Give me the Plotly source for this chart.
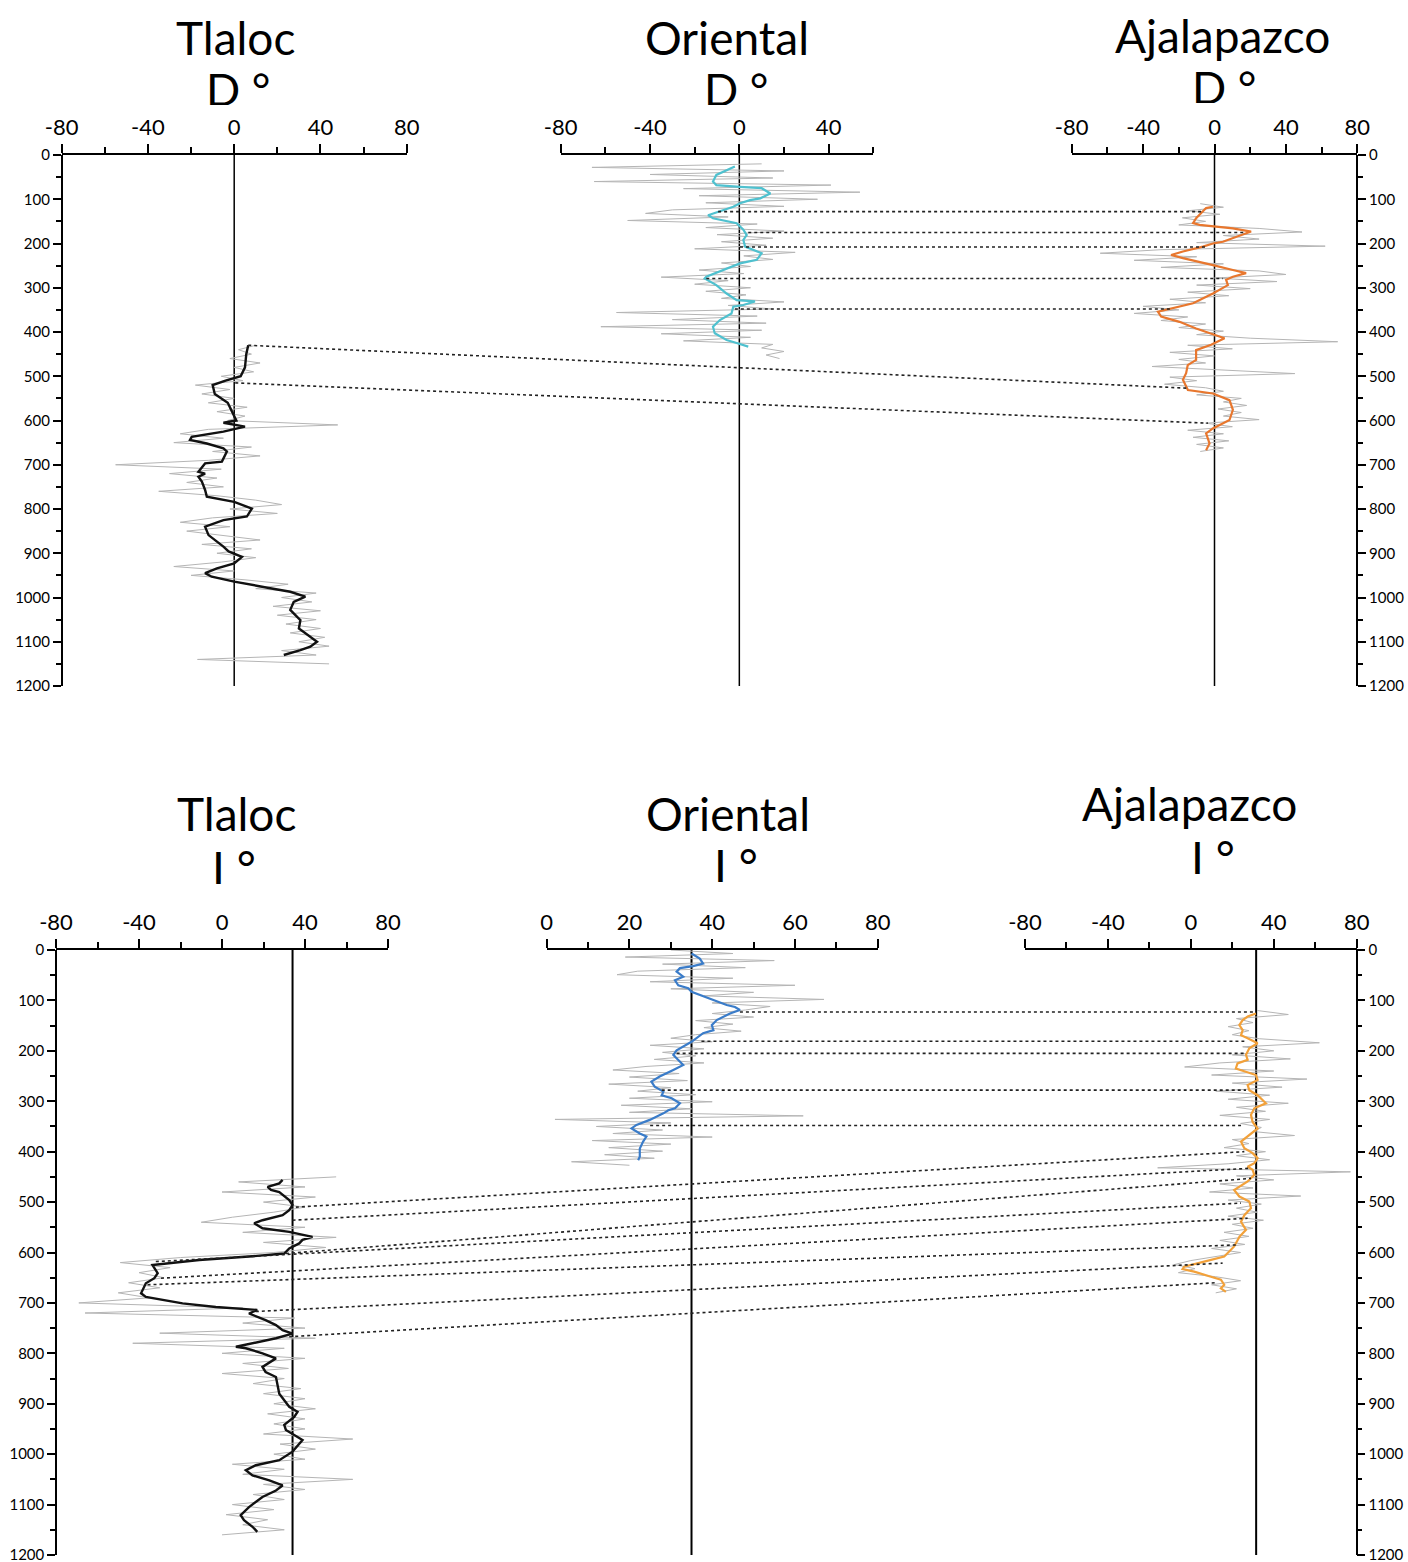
import plotly.graph_objects as go

W, H = 1408, 1562

# ---------------- DATA ----------------
# Declination (D) - smoothed curves (depth cm, degrees)
tlaloc_D_depth = [430, 450, 480, 500, 510, 520, 540, 560, 580, 600, 605, 610, 614, 625, 637, 644, 652, 663, 670, 693, 697, 716, 720, 727, 738, 757, 772, 784, 799, 817, 825, 840, 859, 885, 896, 908, 923, 934, 945, 953, 964, 979, 987, 998, 1010, 1028, 1051, 1070, 1089, 1100, 1111, 1119, 1130]
tlaloc_D_smooth = [6.5, 5.6, 5, 3, -4, -10, -9, -3, -1, 1, -5, 0, 5, -5, -19.7, -20.5, -12.7, -5, -3.4, -5.7, -13.5, -16.6, -13.5, -16.6, -15, -13.5, -12.7, 0, 8.2, 5.9, -5, -13.5, -11.9, -5, -2.6, 3.6, 0, -8, -13.5, -10.4, 0, 16.7, 26, 33, 27.6, 26, 30.7, 30, 35.3, 38.4, 35.3, 30.7, 23]
tlaloc_D_raw_depth = list(range(430, 1151, 10))
tlaloc_D_raw = [10, 2, 8, -2, 12, 0, 9, -6, 4, -18, -2, -15, 0, -12, 6, -8, 5, -3, 48, -12, -25, -5, -28, 8, -10, 12, -12, -55, -6, -30, -8, -22, -5, -35, -8, 10, 22, -2, 20, -10, -25, -2, -22, -5, 12, -15, 8, -8, 10, -6, -28, 0, -20, 5, 25, 10, 38, 22, 36, 18, 40, 20, 38, 24, 40, 26, 42, 30, 44, 22, 38, -17, 44]

oriental_D_depth = [26, 45, 60, 68, 72, 75, 87, 98, 102, 109, 117, 128, 136, 143, 154, 169, 181, 192, 207, 222, 237, 245, 260, 275, 279, 294, 313, 328, 331, 339, 343, 358, 373, 388, 403, 418, 425, 433]
oriental_D_smooth = [-2, -10.3, -11.8, -10.3, 0.3, 10, 13.9, 9.4, 4.8, 0.3, -2.7, -8.7, -14, -11.8, -1.2, 1.8, 3.3, 1.8, 2.6, 10, 7.8, 0.3, -7.2, -14.8, -15.5, -10.3, -5.7, -1.2, 7, 1.8, -2.7, -3.5, -8.7, -11.8, -11, -5.7, -1.2, 4]
oriental_D_raw_depth = list(range(20, 461, 8))
oriental_D_raw = [10, -66, 20, -40, 15, -65, 41, -25, 54, -18, 35, -15, 20, -30, -42, -5, -50, 8, -15, 20, -10, 15, -8, 12, -20, 25, 2, 15, -8, 5, -18, 2, -35, -5, -20, 5, -15, 3, -8, 20, -5, 15, -55, 8, -30, 12, -62, 10, -35, 5, -25, 15, 10, 20, 12, 18]

ajala_D_depth = [117, 120, 143, 154, 158, 166, 173, 188, 196, 200, 207, 218, 226, 233, 241, 249, 260, 267, 275, 282, 294, 313, 335, 346, 354, 365, 377, 392, 403, 414, 429, 441, 463, 475, 493, 508, 531, 539, 554, 576, 599, 618, 629, 652, 667]
ajala_D_smooth = [-0.9, -4.7, -10.3, -12, -8.4, 10.3, 20.5, 10.3, 4.7, -0.9, -6.5, -17.7, -24.3, -17.7, -8.4, -0.9, 10.3, 17.7, 10.3, 6.5, 7.5, -0.9, -12, -23.3, -31.7, -29.9, -19.6, -10.3, -2.8, 5.6, -1.9, -10.3, -10.3, -15, -15.9, -17.7, -14.9, -0.9, 8.4, 10.3, 8.4, -0.9, -4.7, -2.8, -4.7]
ajala_D_raw_depth = list(range(110, 671, 8))
ajala_D_raw = [-8, 5, -15, 3, -18, -5, -20, 25, 49, 5, 25, -10, 62, -30, -64, -10, -45, 5, -30, 25, 40, 0, 35, -10, 20, -15, 8, -25, -5, -40, -20, -45, -15, -30, -5, -20, 5, -10, 20, 69, -15, 10, -25, 0, -20, -5, -35, 5, 45, -25, -10, -28, -5, 5, -10, 15, 5, 18, 2, 15, 5, 25, -5, 10, -15, 5, -12, 8, -10, 5, -8]

# Inclination (I)
tlaloc_I_depth = [456, 463, 470, 476, 480, 496, 506, 516, 526, 536, 542, 552, 559, 569, 575, 582, 592, 602, 608, 615, 625, 641, 651, 661, 681, 688, 701, 708, 714, 721, 734, 744, 754, 761, 770, 780, 787, 790, 800, 810, 827, 837, 847, 880, 906, 916, 926, 942, 952, 972, 995, 1012, 1022, 1032, 1042, 1052, 1062, 1072, 1085, 1105, 1121, 1131, 1144, 1154]
tlaloc_I_smooth = [29.2, 27.6, 22, 23.6, 27.6, 32.4, 34, 32.4, 29.2, 19.5, 15.5, 19.5, 32.4, 43.6, 38.8, 37.2, 32.4, 30, 13, -11, -33.5, -31, -32.6, -36.7, -39, -36.7, -19, -3, 17, 13, 21, 26, 29.2, 34, 26, 14.7, 6.7, 11.5, 19.5, 26, 19.5, 21, 26, 27.6, 32.4, 36.4, 34.8, 30, 30.8, 38.8, 34, 27.6, 16.3, 11.5, 14.7, 22.8, 29.2, 26, 19.5, 13, 9, 10.6, 14.7, 17]
tlaloc_I_raw_depth = list(range(450, 1161, 10))
tlaloc_I_raw = [55, 8, 40, 0, 45, 20, 40, 25, 5, -10, 40, 10, 55, 20, 50, 25, -20, -49, -25, -40, -28, -45, -30, -50, -35, -69, 10, -66, 35, 10, 40, -30, 45, -43, 30, 0, 40, 10, 32, 0, 30, 15, 38, 20, 40, 25, 45, 22, 40, 25, 40, 20, 63, 28, 45, 25, 40, 5, 30, 10, 63, 20, 40, 15, 30, 5, 25, 2, 22, 10, 30, 0]

oriental_I_depth = [7, 17, 27, 32, 36, 43, 53, 60, 70, 76, 83, 99, 109, 113, 119, 126, 139, 149, 159, 165, 182, 199, 208, 218, 228, 238, 251, 261, 271, 281, 288, 294, 304, 314, 318, 324, 337, 347, 354, 364, 370, 380, 394, 410, 417]
oriental_I_smooth = [35, 37, 37.8, 35.4, 32.2, 31.4, 33, 31, 31.8, 34.2, 35, 40.3, 43.5, 45.5, 46.7, 44.3, 41.1, 39.9, 40.3, 37.8, 35, 31.4, 30.6, 31.8, 33, 30.6, 27.3, 25.3, 26.1, 28.2, 27.8, 30.2, 32.2, 31, 29.4, 28.2, 24.9, 21.7, 20.5, 22.5, 24.1, 23.3, 22.5, 22.5, 22.1]
oriental_I_raw_depth = list(range(0, 428, 7))
oriental_I_raw = [30, 45, 19, 55, 28, 48, 22, 17, 45, 25, 60, 30, 50, 38, 67, 40, 54, 48, 40, 50, 36, 45, 38, 47, 36, 30, 40, 25, 38, 28, 36, 26, 38, 24, 16, 32, 20, 34, 15, 30, 22, 36, 20, 40, 18, 35, 20, 62, 2, 30, 12, 28, 16, 40, 11, 30, 15, 28, 14, 26, 6, 20]

ajala_I_depth = [126, 132, 139, 149, 159, 169, 175, 185, 195, 208, 218, 225, 235, 241, 248, 258, 268, 278, 288, 304, 314, 327, 341, 354, 367, 380, 393, 403, 413, 423, 430, 436, 446, 459, 476, 489, 499, 512, 526, 539, 555, 569, 588, 608, 618, 628, 633, 638, 648, 654, 664, 671, 678]
ajala_I_smooth = [31.4, 27.4, 25, 23.4, 25, 24.2, 27.4, 32.2, 28.2, 26.6, 27.4, 22.5, 21.7, 26.6, 31.4, 32.2, 27.4, 28.2, 32.2, 36.2, 30.6, 29, 29.8, 32.2, 28.2, 24.2, 25.8, 29.8, 32.2, 30.6, 27.4, 29.8, 30.6, 27.4, 20.9, 23.4, 28.2, 29, 25.8, 24.2, 26.6, 23.4, 20.9, 16.1, 6.4, -3.2, -4, 1.6, 9.7, 14.5, 16.1, 14.5, 16.9]
ajala_I_raw_depth = list(range(120, 681, 8))
ajala_I_raw = [32, 47, 22, 30, 18, 28, 20, 33, 62, 25, 40, 20, 48, 14, -3, 40, 10, 56, 20, 44, 12, 38, 18, 47, 22, 36, 14, 38, 24, 34, 30, 50, 20, 28, 16, 36, 22, 38, 18, -16, 77, 22, 40, 14, 30, 9, 53, 18, 34, 22, 32, 18, 35, 20, 30, 16, 28, 14, 26, 10, 24, 12, 0, -8, 2, -6, 12, 24, 10, 22, 12]

# Reference (vertical) lines
ref_D = [0, 0, 0]
ref_I = [34, 35, 31.5]

# Tie lines: (depth, value) in first core -> (depth, value) in second core
tie_D_oa = [((128, -9.5), (128, -6.5)), ((175, 4), (175, 17.7)), ((208, 0.3), (208, -4.7)),
            ((279, -14.8), (279, 4.7)), ((348, -2), (348, -25))]
tie_D_ta = [((430, 6.5), (527, -15)), ((515, 0.5), (606, -3.7))]
tie_I_oa = [((123, 46.7), (123, 31.4)), ((181, 37.4), (181, 25.8)), ((205, 31.4), (205, 26.6)),
            ((278, 27.8), (278, 26.6)), ((348, 25), (348, 24.2))]
tie_I_ta = [((510, 35.6), (400, 25.8)), ((536, 34), (433, 28.2)), ((602, 30.8), (453, 29)),
            ((618, -31.9), (502, 24.2)), ((651, -29.4), (532, 27.4)), ((664, -35.9), (585, 21.7)),
            ((717, 16.3), (621, 15.3)), ((767, 32.4), (660, 12.1))]

titles = ["Tlaloc", "Oriental", "Ajalapazco"]
sub_top = "D °"
sub_bot = "I °"

xt_full = [-80, -40, 0, 40, 80]
xt_full_minor = [-60, -20, 20, 60]
xt_ori_D = [-80, -40, 0, 40]
xt_ori_D_minor = [-60, -20, 20, 60]
xt_ori_I = [0, 20, 40, 60, 80]
xt_ori_I_minor = [10, 30, 50, 70]
yt = list(range(0, 1201, 100))

# ---------------- LAYOUT GEOMETRY ----------------
def px_dom(a, b):
    return [a / W, b / W]

def py_dom(top, bot):
    return [1 - bot / H, 1 - top / H]

FONT = "Lato"
GREY = "#b5b5b5"

fig = go.Figure()

panels = [
    ("x", "y", [-80, 80], px_dom(61.7, 406.7), xt_full, xt_full_minor, tlaloc_D_raw_depth, tlaloc_D_raw, tlaloc_D_depth, tlaloc_D_smooth, "#111111", 2.4),
    ("x2", "y", [-80, 60], px_dom(560.7, 873.3), xt_ori_D, xt_ori_D_minor, oriental_D_raw_depth, oriental_D_raw, oriental_D_depth, oriental_D_smooth, "#4fc1cf", 2.2),
    ("x3", "y2", [-80, 80], px_dom(1071.7, 1357.3), xt_full, xt_full_minor, ajala_D_raw_depth, ajala_D_raw, ajala_D_depth, ajala_D_smooth, "#e8772e", 2.2),
    ("x4", "y3", [-80, 80], px_dom(56, 388), xt_full, xt_full_minor, tlaloc_I_raw_depth, tlaloc_I_raw, tlaloc_I_depth, tlaloc_I_smooth, "#111111", 2.4),
    ("x5", "y3", [0, 80], px_dom(546.7, 877.7), xt_ori_I, xt_ori_I_minor, oriental_I_raw_depth, oriental_I_raw, oriental_I_depth, oriental_I_smooth, "#3a7cc9", 2.2),
    ("x6", "y4", [-80, 80], px_dom(1025, 1356.7), xt_full, xt_full_minor, ajala_I_raw_depth, ajala_I_raw, ajala_I_depth, ajala_I_smooth, "#f2a13a", 2.2),
]

ydom_top = py_dom(155, 686)
ydom_bot = py_dom(950, 1555)

for (xa, ya, rng, dom, tv, mv, rd, rv, sd, sv, col, lw) in panels:
    fig.add_trace(go.Scatter(x=rv, y=rd, mode="lines", line=dict(color=GREY, width=1),
                             xaxis=xa, yaxis=ya, showlegend=False, hoverinfo="skip"))
    fig.add_trace(go.Scatter(x=sv, y=sd, mode="lines", line=dict(color=col, width=lw),
                             xaxis=xa, yaxis=ya, showlegend=False))
    key = "xaxis" if xa == "x" else "xaxis" + xa[1:]
    fig.layout[key] = dict(
        domain=dom, range=rng, anchor=ya, side="top", showgrid=False, zeroline=False,
        automargin=False, ticklabeloverflow="allow",
        showline=True, linecolor="black", linewidth=1.5,
        tickmode="array", tickvals=tv, ticktext=[str(v) for v in tv],
        ticks="outside", ticklen=9, tickwidth=1.5, tickcolor="black",
        minor=dict(tickmode="array", tickvals=mv, ticks="outside", ticklen=6, tickwidth=1.5, tickcolor="black"),
        tickfont=dict(family=FONT, size=22, color="black"), fixedrange=True,
    )

yax_common = dict(range=[1200, 0], showgrid=False, zeroline=False, showline=True, automargin=False,
                  ticklabeloverflow="allow",
                  linecolor="black", linewidth=1.5, tickmode="array", tickvals=yt,
                  ticktext=[str(v) for v in yt], ticks="outside", ticklen=8, tickwidth=1.5,
                  tickcolor="black",
                  minor=dict(dtick=50, tick0=0, ticks="outside", ticklen=5, tickwidth=1.5, tickcolor="black"),
                  tickfont=dict(family=FONT, size=15, color="black"), fixedrange=True)

fig.layout.yaxis = dict(yax_common, domain=ydom_top, anchor="free", position=61.7 / W, side="left")
fig.layout.yaxis2 = dict(yax_common, domain=ydom_top, anchor="free", position=1357.3 / W, side="right", overlaying="y")
fig.layout.yaxis3 = dict(yax_common, domain=ydom_bot, anchor="free", position=56 / W, side="left")
fig.layout.yaxis4 = dict(yax_common, domain=ydom_bot, anchor="free", position=1356.7 / W, side="right", overlaying="y3")

shapes = []
for (xa, ya), rv in zip([("x", "y"), ("x2", "y"), ("x3", "y2")], ref_D):
    shapes.append(dict(type="line", xref=xa, yref=ya, x0=rv, x1=rv, y0=0, y1=1200,
                       line=dict(color="black", width=1.5), layer="below"))
for (xa, ya), rv in zip([("x4", "y3"), ("x5", "y3"), ("x6", "y4")], ref_I):
    shapes.append(dict(type="line", xref=xa, yref=ya, x0=rv, x1=rv, y0=0, y1=1200,
                       line=dict(color="black", width=2), layer="below"))

def to_paper(v, p):
    rng, dom = p[2], p[3]
    return dom[0] + (v - rng[0]) / (rng[1] - rng[0]) * (dom[1] - dom[0])

def tie(lines, pa, pb, yref):
    for (d1, v1), (d2, v2) in lines:
        shapes.append(dict(type="line", xref="paper", yref=yref,
                           x0=to_paper(v1, pa), y0=d1, x1=to_paper(v2, pb), y1=d2,
                           line=dict(color="#222222", width=1.6, dash="dot")))

tie(tie_D_oa, panels[1], panels[2], "y")
tie(tie_D_ta, panels[0], panels[2], "y")
tie(tie_I_oa, panels[4], panels[5], "y3")
tie(tie_I_ta, panels[3], panels[5], "y3")
fig.layout.shapes = shapes

ann = []
def txt(s, x, y, size, h=None):
    d = dict(text=s, x=x / W, y=1 - y / H, xref="paper", yref="paper", showarrow=False,
             font=dict(family=FONT, size=size, color="black"), xanchor="center",
             yanchor="middle")
    if h:
        d["height"] = h
    ann.append(d)

for name, cx, cy, sx, sy in zip(titles, [235, 727, 1222], [37, 37, 35], [238, 736, 1224], [89, 89, 87]):
    txt(name, cx, cy, 46)
    txt(sub_top, sx, sy, 45, 32)
for name, cx, cy, sx, sy in zip(titles, [236, 728, 1189], [813, 813, 803], [234, 736, 1213], [867, 865, 857]):
    txt(name, cx, cy, 46)
    txt(sub_bot, sx, sy, 46, 34)
fig.layout.annotations = ann

fig.update_layout(width=W, height=H, margin=dict(l=0, r=0, t=0, b=0, autoexpand=False),
                  paper_bgcolor="white", plot_bgcolor="white", showlegend=False)

fig.write_html("out.html", config={"displayModeBar": False},
               post_script="document.body.style.margin='0';document.body.style.overflow='hidden';")
